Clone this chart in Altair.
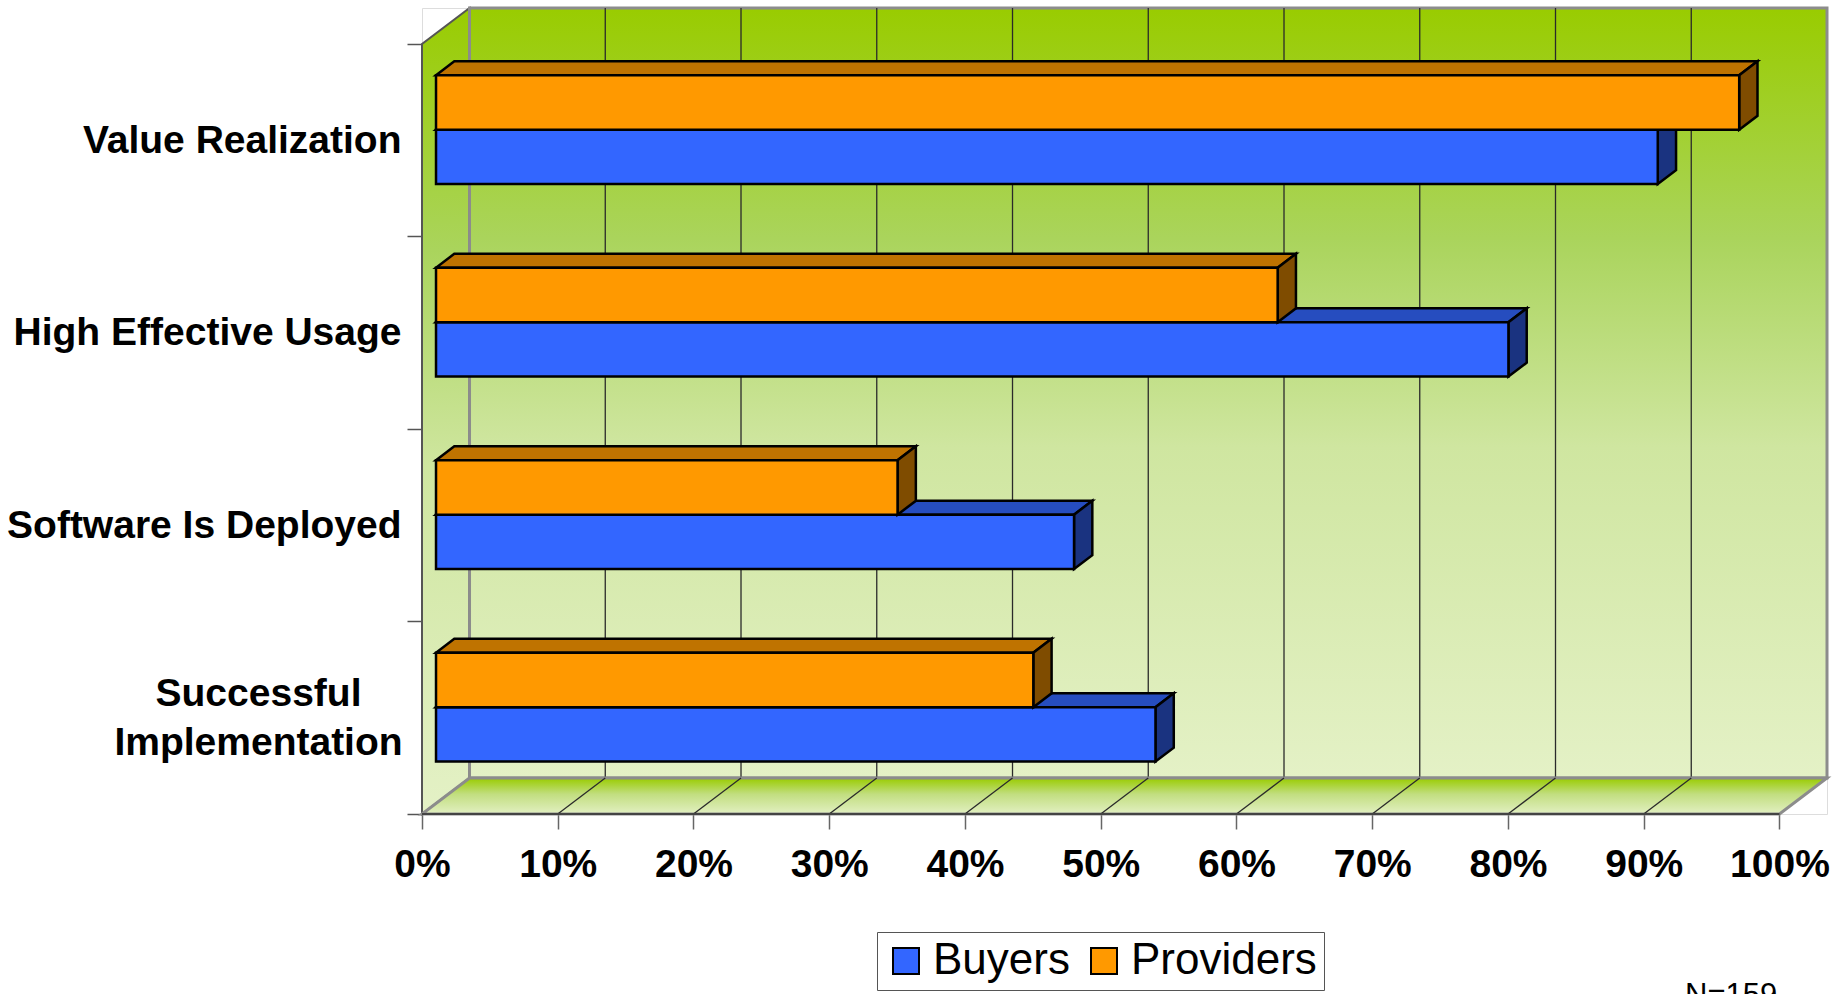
import altair as alt
import pandas as pd

# ---------------- data ----------------
categories = ["Value Realization", "High Effective Usage", "Software Is Deployed", "Successful Implementation"]
label_lines = [["Value Realization"], ["High Effective Usage"], ["Software Is Deployed"], ["Successful", "Implementation"]]
series = ["Buyers", "Providers"]
buyers = [90, 79, 47, 53]
providers = [96, 62, 34, 44]
x_ticks = [0, 10, 20, 30, 40, 50, 60, 70, 80, 90, 100]
note = "N=159"

# ---------------- style ----------------
front_colors = ["#3366FF", "#FF9900"]
top_colors = ["#264DBF", "#BF7300"]
side_colors = ["#1A3380", "#7F4C00"]
FONT = "Liberation Sans"

DX = 0.035      # depth of the 3D box (x units)
DY = 0.187      # depth of the 3D box (category band units)
FRONT = 0.295   # depth fraction where bar front faces sit
DEPTH = 0.385   # bar depth fraction
BAR_H = 0.283   # bar thickness (band units)
n = len(categories)
XMAX = 1 + DX
YMAX = n + DY
W, H = 1405, 806

xs = alt.Scale(domain=[0, XMAX], nice=False, zero=False)
ys = alt.Scale(domain=[0, YMAX], nice=False, zero=False)

# ---------------- geometry tables ----------------
fronts, tops, sides = [], [], []
for k, cat in enumerate(categories):
    idx = n - 1 - k
    c = idx + 0.5 + FRONT * DY
    x0 = FRONT * DX
    bx, by = DEPTH * DX, DEPTH * DY
    for s, vals in zip(series, [buyers, providers]):
        v = vals[k] / 100
        x1 = x0 + v
        if s == "Buyers":
            yb, yt = c - BAR_H, c
        else:
            yb, yt = c, c + BAR_H
        bid = f"{s}-{k}"
        fronts.append(dict(series=s, cat=cat, x=x0, x2=x1, y=yb, y2=yt))
        for xx, ya, yb2 in [(x0, yt, yt), (x0 + bx, yt, yt + by), (x1, yt, yt + by), (x1 + bx, yt + by, yt + by)]:
            tops.append(dict(series=s, id=bid, x=xx, y=ya, y2=yb2))
        for xx, ya, yb2 in [(x1, yb, yt), (x1 + bx, yb + by, yt + by)]:
            sides.append(dict(series=s, id=bid, x=xx, y=ya, y2=yb2))
fronts = pd.DataFrame(fronts)
tops = pd.DataFrame(tops)
sides = pd.DataFrame(sides)

grid_vals = [t / 100 for t in x_ticks[1:-1]]
back_grid = pd.DataFrame({"x": [g + DX for g in grid_vals], "y": DY, "y2": n + DY})
floor_grid = pd.DataFrame({"x": grid_vals, "x2": [g + DX for g in grid_vals], "y": 0.0, "y2": DY})
back_wall = pd.DataFrame({"x": [DX], "x2": [1 + DX], "y": [DY], "y2": [n + DY]})
floor = pd.DataFrame({"x": [0, DX, 1, 1 + DX], "y": [0, 0, 0, DY], "y2": [0, DY, DY, DY]})
left_wall = pd.DataFrame({"x": [0, DX], "y": [0, DY], "y2": [n, n + DY]})
front_edge = pd.DataFrame({"x": [0.0], "x2": [1.0], "y": [0.0]})

# ---------------- axes ----------------
parts = []
for k, lines in enumerate(label_lines):
    pos = n - 1 - k + 0.5
    if len(lines) > 1:
        txt = "[" + ",".join("'" + l + "'" for l in lines) + "]"
    else:
        txt = "'" + lines[0] + "'"
    parts.append(f"datum.value == {pos} ? {txt} : ")
label_expr = "".join(parts) + "''"

two_line = "datum.value == 0.5"
y_axis = alt.Axis(
    values=[i * 0.5 for i in range(2 * n + 1)],
    labelExpr=label_expr,
    title=None, domain=False, grid=False,
    tickSize=15, tickColor="#555", tickWidth=1.5,
    tickOpacity={"condition": {"test": "datum.value % 1 != 0", "value": 0}, "value": 1},
    labelAlign={"condition": {"test": two_line, "value": "center"}, "value": "right"},
    labelPadding={"condition": {"test": two_line, "value": 149}, "value": 6},
    labelOffset={"condition": {"test": two_line, "value": -24}, "value": 0},
    labelFont=FONT, labelFontSize=39, labelFontWeight="bold", labelColor="black",
    labelLimit=0, labelOverlap=False, labelLineHeight=49, labelBaseline="middle",
)
x_axis = alt.Axis(
    values=[t / 100 for t in x_ticks], format=".0%",
    title=None, domain=False, grid=False,
    tickSize=15, tickColor="#666", tickWidth=1.5,
    labelPadding=16, labelFont=FONT, labelFontSize=39, labelFontWeight="bold",
    labelColor="black", labelFlush=False, labelOverlap=False, labelLimit=0,
)

def X(field):
    return alt.X(field, scale=xs, axis=x_axis)

def Y(field):
    return alt.Y(field, scale=ys, axis=y_axis, stack=None)

def grad(stops):
    return alt.Gradient(
        gradient="linear",
        stops=[alt.GradientStop(color=c, offset=o) for o, c in stops],
        x1=0, x2=0, y1=0, y2=1,
    )

wall_grad = grad([(0, "#99CC00"), (0.3, "#AAD45C"), (0.57, "#CFE6A0"), (1, "#E4F1C6")])
floor_grad = grad([(0, "#99CC00"), (0.45, "#C2DE80"), (1, "#E2F0C2")])

# ---------------- layers ----------------
left = alt.Chart(left_wall).mark_area(fill=wall_grad, stroke="#555", strokeWidth=2, opacity=1, orient="vertical").encode(
    x=X("x:Q"), y=Y("y:Q"), y2="y2:Q",
)
back = alt.Chart(back_wall).mark_rect(fill=wall_grad, stroke="#8C8C8C", strokeWidth=3).encode(
    x=X("x:Q"), x2="x2:Q", y=Y("y:Q"), y2="y2:Q",
)
bgrid = alt.Chart(back_grid).mark_rule(color="#2a2a2a", strokeWidth=1.3).encode(
    x=X("x:Q"), y=Y("y:Q"), y2="y2:Q",
)
flr = alt.Chart(floor).mark_area(fill=floor_grad, stroke="#8C8C8C", strokeWidth=3, opacity=1, orient="vertical").encode(
    x=X("x:Q"), y=Y("y:Q"), y2="y2:Q",
)
fgrid = alt.Chart(floor_grid).mark_rule(color="#2a2a2a", strokeWidth=1.3).encode(
    x=X("x:Q"), x2="x2:Q", y=Y("y:Q"), y2="y2:Q",
)
fedge = alt.Chart(front_edge).mark_rule(color="#444", strokeWidth=2).encode(
    x=X("x:Q"), x2="x2:Q", y=Y("y:Q"),
)

color_scale = alt.Scale(domain=series, range=front_colors)
legend = alt.Legend(
    orient="none", legendX=455, legendY=924, direction="horizontal", title=None,
    strokeColor="#555", padding=7, fillColor="white",
    symbolType="square", symbolSize=676, symbolStrokeColor="black", symbolStrokeWidth=2,
    symbolOpacity=1, labelFont=FONT, labelFontSize=44, labelOffset=5, columnPadding=12,
    labelLimit=0, labelColor="black",
)

bar_layers = []
for i, s in enumerate(series):
    top = alt.Chart(tops[tops.series == s]).mark_area(
        fill=top_colors[i], stroke="black", strokeWidth=2.5, opacity=1, orient="vertical", strokeJoin="miter"
    ).encode(x=X("x:Q"), y=Y("y:Q"), y2="y2:Q", detail="id:N")
    side = alt.Chart(sides[sides.series == s]).mark_area(
        fill=side_colors[i], stroke="black", strokeWidth=2.5, opacity=1, orient="vertical", strokeJoin="miter"
    ).encode(x=X("x:Q"), y=Y("y:Q"), y2="y2:Q", detail="id:N")
    front = alt.Chart(fronts[fronts.series == s]).mark_rect(
        stroke="black", strokeWidth=2.5, opacity=1, strokeJoin="miter"
    ).encode(
        x=X("x:Q"), x2="x2:Q", y=Y("y:Q"), y2="y2:Q",
        fill=alt.Fill("series:N", scale=color_scale, legend=legend),
    )
    bar_layers += [top, side, front]

note_layer = alt.Chart(pd.DataFrame({"t": [note]})).mark_text(
    align="left", baseline="alphabetic", font=FONT, fontSize=31, color="black"
).encode(x=alt.value(1263), y=alt.value(997), text="t:N")

chart = alt.layer(left, back, bgrid, flr, fgrid, fedge, *bar_layers, note_layer).properties(
    width=W, height=H,
    autosize=alt.AutoSizeParams(type="none"),
    padding={"left": 422, "top": 8, "right": 21, "bottom": 180},
).configure_view(stroke=None).configure(background="white")

chart.save("out.html", embed_options={"renderer": "svg", "actions": False})
